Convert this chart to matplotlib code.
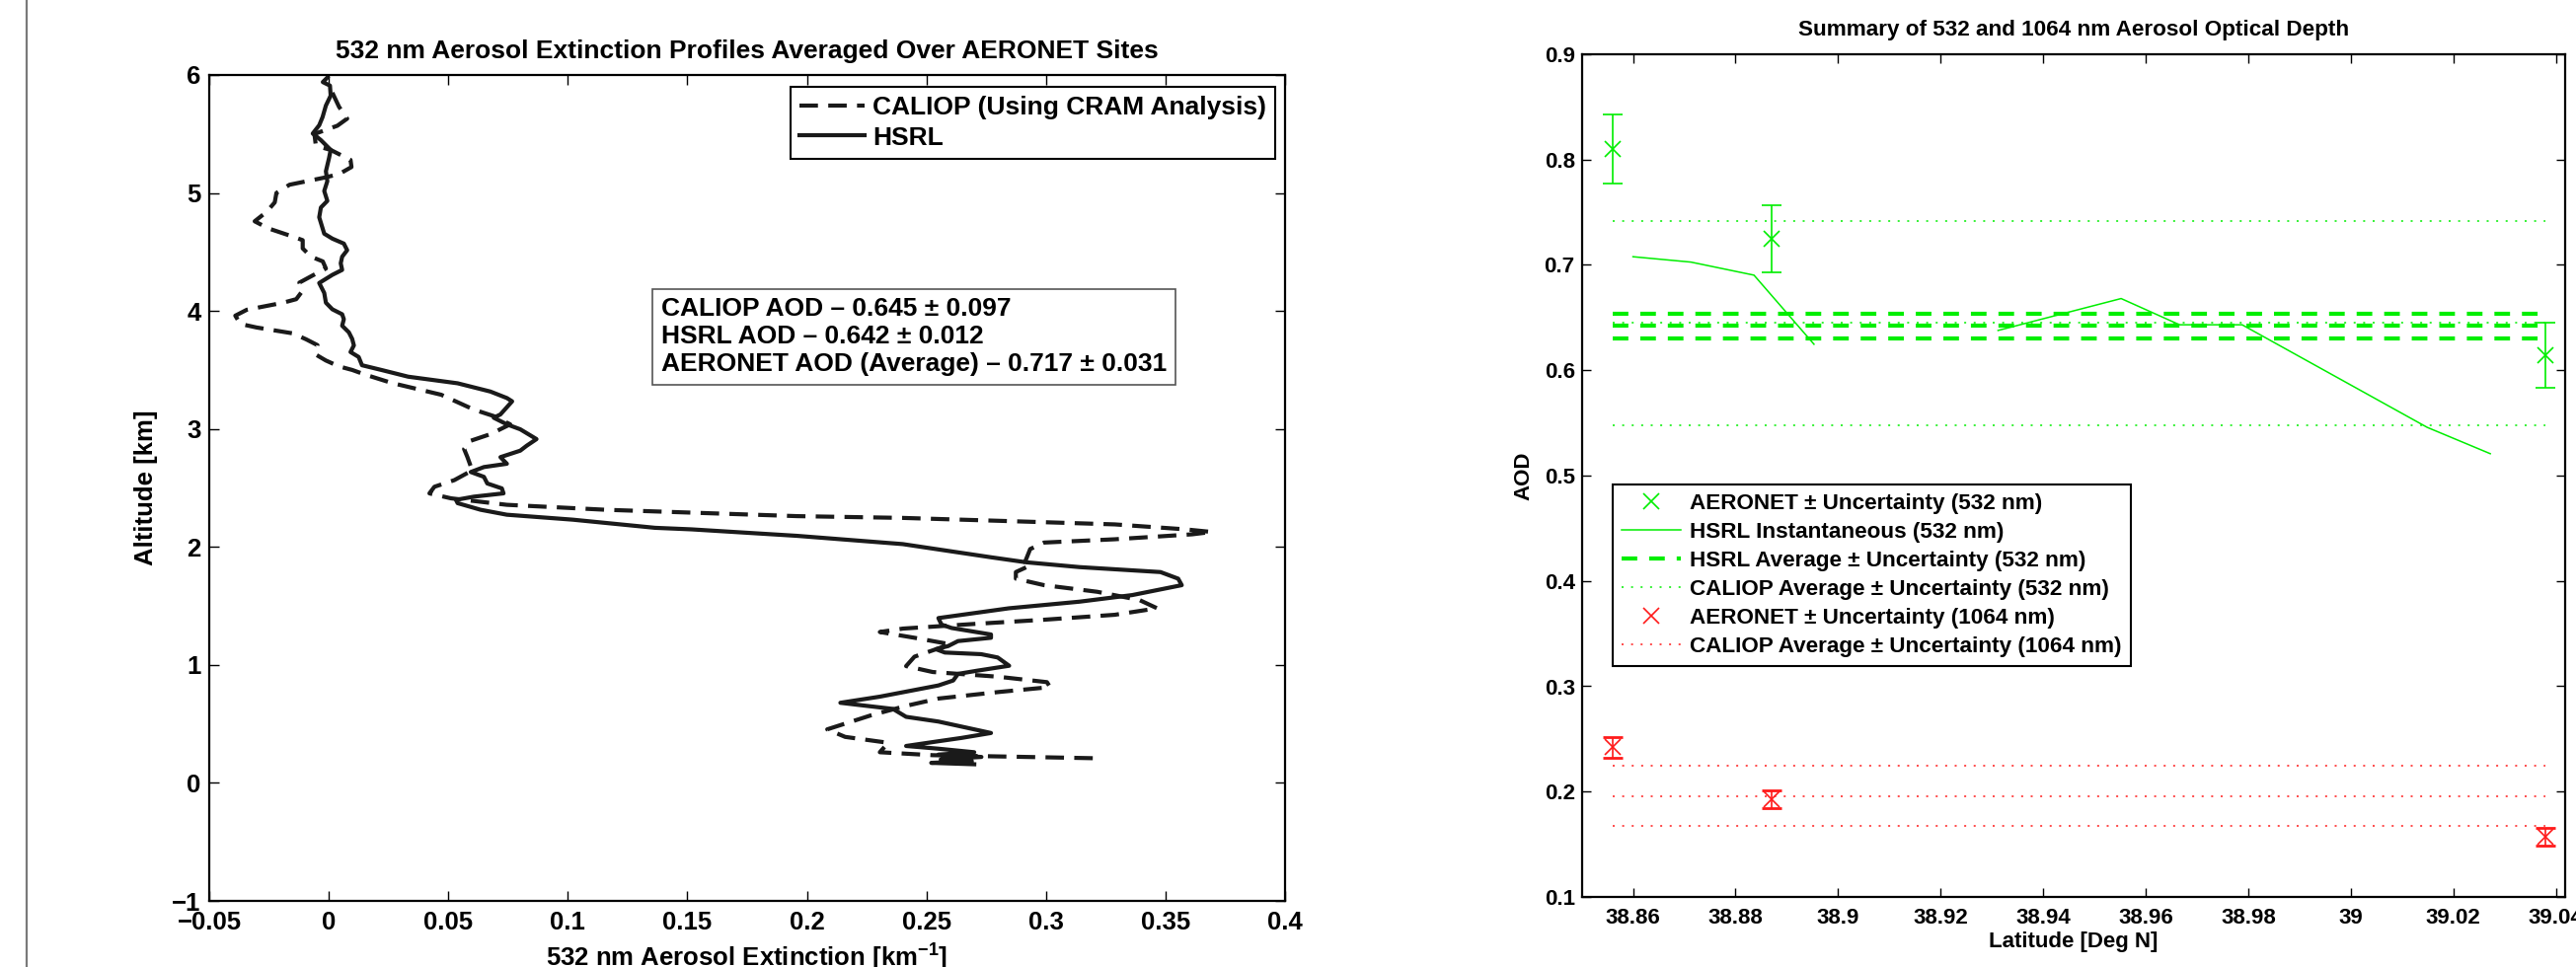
import numpy as np
import matplotlib.pyplot as plt
from matplotlib.lines import Line2D

plt.rcParams['font.family'] = ['Liberation Sans', 'DejaVu Sans']
plt.rcParams['font.weight'] = 'bold'
plt.rcParams['axes.labelweight'] = 'bold'
plt.rcParams['axes.titleweight'] = 'bold'
plt.rcParams['mathtext.fontset'] = 'custom'
plt.rcParams['mathtext.rm'] = 'Liberation Sans:bold'
plt.rcParams['mathtext.it'] = 'Liberation Sans:bold'
plt.rcParams['mathtext.bf'] = 'Liberation Sans:bold'

# ---- left panel: extinction profiles (km^-1 vs km) ----
hsrl_ext = [-0.0006, -0.0025, 0.0005, 0.0008, -0.0012, -0.0026, -0.0040, -0.0067, -0.0033, 0.0008,
            0.0001, -0.0012, -0.0006, -0.0019, -0.0006, -0.0033, -0.0040, -0.0019, 0.0015, 0.0063,
            0.0077, 0.0056, 0.0050, 0.0056, 0.0015, -0.0040, -0.0019, -0.0012, 0.0015, 0.0056,
            0.0063, 0.0056, 0.0084, 0.0098, 0.0105, 0.0091, 0.0125, 0.0139, 0.0222, 0.0332,
            0.0539, 0.0676, 0.0745, 0.0767, 0.0718, 0.0690, 0.0745, 0.0801, 0.0869, 0.0828,
            0.0801, 0.0718, 0.0745, 0.0649, 0.0594, 0.0649, 0.0663, 0.0724, 0.0731, 0.0607,
            0.0532, 0.0539, 0.0635, 0.0745, 0.1021, 0.1365, 0.1517, 0.1959, 0.2401, 0.2771,
            0.2917, 0.3140, 0.3479, 0.3553, 0.3568, 0.3361, 0.3140, 0.2845, 0.2550, 0.2563,
            0.2605, 0.2770, 0.2770, 0.2632, 0.2591, 0.2540, 0.2577, 0.2729, 0.2798, 0.2846,
            0.2715, 0.2632, 0.2612, 0.2550, 0.2305, 0.2140, 0.2360, 0.2415, 0.2550, 0.2770,
            0.2646, 0.2550, 0.2415, 0.2550, 0.2700, 0.2550, 0.2730, 0.2560, 0.2690, 0.2520,
            0.2700]
hsrl_alt = [5.978, 5.94, 5.91, 5.825, 5.741, 5.643, 5.574, 5.504, 5.448, 5.365,
            5.295, 5.184, 5.100, 5.017, 4.933, 4.877, 4.794, 4.655, 4.613, 4.571,
            4.515, 4.460, 4.404, 4.348, 4.306, 4.237, 4.153, 4.070, 4.014, 3.972,
            3.930, 3.875, 3.819, 3.763, 3.708, 3.652, 3.610, 3.540, 3.499, 3.443,
            3.387, 3.317, 3.262, 3.234, 3.123, 3.095, 3.039, 2.997, 2.914, 2.858,
            2.816, 2.761, 2.705, 2.677, 2.635, 2.594, 2.538, 2.496, 2.454, 2.426,
            2.399, 2.371, 2.315, 2.273, 2.231, 2.162, 2.149, 2.094, 2.024, 1.912,
            1.870, 1.829, 1.787, 1.731, 1.676, 1.592, 1.536, 1.480, 1.397, 1.342,
            1.313, 1.258, 1.230, 1.202, 1.160, 1.133, 1.105, 1.091, 1.063, 0.993,
            0.952, 0.924, 0.868, 0.826, 0.731, 0.679, 0.627, 0.560, 0.520, 0.423,
            0.381, 0.353, 0.313, 0.290, 0.260, 0.240, 0.220, 0.200, 0.185, 0.170,
            0.158]

caliop_ext = [0.0015, 0.0043, 0.0077, 0.0036, -0.0060, -0.0054, 0.0008, 0.0091, 0.0095, 0.0043,
              -0.0019, -0.0164, -0.0219, -0.0226, -0.0260, -0.0310, -0.0253, -0.0150, -0.0109, -0.0109,
              -0.0074, -0.0025, -0.0012, -0.0050, -0.0123, -0.0110, -0.0136, -0.0191, -0.0343, -0.0391,
              -0.0370, -0.0302, -0.0150, -0.0095, -0.0047, -0.0054, -0.0012, 0.0043, 0.0098, 0.0153,
              0.0263, 0.0346, 0.0470, 0.0607, 0.0690, 0.0759, 0.0676, 0.0594, 0.0566, 0.0580,
              0.0600, 0.0525, 0.0442, 0.0421, 0.0511, 0.0745, 0.1158, 0.1572, 0.1959, 0.2401,
              0.2843, 0.3288, 0.3583, 0.3693, 0.3612, 0.3288, 0.2992, 0.2934, 0.2912, 0.2934,
              0.2874, 0.2874, 0.2992, 0.3214, 0.3391, 0.3465, 0.3288, 0.2992, 0.2697, 0.2402,
              0.2305, 0.2450, 0.2600, 0.2450, 0.2415, 0.2526, 0.2800, 0.3004, 0.3017, 0.2800,
              0.2550, 0.2415, 0.2270, 0.2085, 0.2160, 0.2340, 0.2305, 0.2526, 0.3206]
caliop_alt = [5.85, 5.73, 5.63, 5.57, 5.50, 5.40, 5.365, 5.28, 5.22, 5.16,
              5.13, 5.07, 5.00, 4.92, 4.84, 4.76, 4.70, 4.63, 4.60, 4.53,
              4.46, 4.42, 4.36, 4.32, 4.24, 4.17, 4.10, 4.07, 4.01, 3.96,
              3.89, 3.86, 3.81, 3.76, 3.71, 3.63, 3.58, 3.53, 3.50, 3.46,
              3.39, 3.35, 3.29, 3.164, 3.109, 3.039, 2.956, 2.900, 2.830, 2.761,
              2.649, 2.566, 2.510, 2.454, 2.412, 2.357, 2.315, 2.287, 2.261, 2.246,
              2.219, 2.191, 2.149, 2.127, 2.107, 2.065, 2.037, 1.982, 1.871, 1.843,
              1.787, 1.731, 1.676, 1.620, 1.550, 1.480, 1.425, 1.383, 1.347, 1.308,
              1.279, 1.23, 1.175, 1.07, 0.99, 0.94, 0.90, 0.854, 0.812, 0.77,
              0.715, 0.653, 0.574, 0.454, 0.39, 0.34, 0.26, 0.235, 0.209]

aod_text = ['CALIOP AOD \u2013 0.645 \u00b1 0.097',
            'HSRL AOD \u2013 0.642 \u00b1 0.012',
            'AERONET AOD (Average) \u2013 0.717 \u00b1 0.031']

# ---- right panel: AOD vs latitude ----
aeronet_lat = [38.856, 38.887, 39.038]
aeronet_532 = [0.810, 0.725, 0.614]
aeronet_532_err = [0.033, 0.032, 0.031]
aeronet_1064 = [0.242, 0.193, 0.157]
aeronet_1064_err = [0.0095, 0.0085, 0.0083]

hsrl_lat = [38.860, 38.8713, 38.8836, 38.8953, np.nan, 38.9312, 38.9552, 38.9666, 38.9788, 39.0149, 39.0272]
hsrl_aod = [0.7078, 0.7027, 0.6903, 0.6247, np.nan, 0.6378, 0.6681, 0.6432, 0.6432, 0.5458, 0.5208]

hsrl_avg, hsrl_unc = 0.642, 0.012
caliop532_avg, caliop532_unc = 0.645, 0.097
caliop1064_avg, caliop1064_unc = 0.196, 0.029

green = '#00ee00'
red = '#ff1a1a'

fig = plt.figure(figsize=(26.1, 9.8), dpi=100)
fig.add_artist(Line2D([27 / 2610, 27 / 2610], [0, 1], color='#7a7a7a', lw=1.6))

# left
ax1 = fig.add_axes([212 / 2610, 1 - 913 / 980, 1090 / 2610, 837 / 980])
ax1.plot(caliop_ext, caliop_alt, color='#1a1a1a', lw=3, dashes=(4.5, 2.5),
         label='CALIOP (Using CRAM Analysis)')
ax1.plot(hsrl_ext, hsrl_alt, color='#1a1a1a', lw=3, label='HSRL')
ax1.set_xlim(-0.05, 0.4)
ax1.set_ylim(-1, 6)
ax1.set_xticks(np.arange(-0.05, 0.401, 0.05))
ax1.set_xticklabels(['\u22120.05', '0', '0.05', '0.1', '0.15', '0.2', '0.25', '0.3', '0.35', '0.4'])
ax1.set_yticks(range(-1, 7))
ax1.tick_params(direction='in', length=7, width=1, labelsize=18.5, top=True, right=True)
ax1.tick_params(axis='x', pad=7)
ax1.tick_params(axis='y', pad=6)
for s in ax1.spines.values():
    s.set_linewidth(1.6)
ax1.set_title('532 nm Aerosol Extinction Profiles Averaged Over AERONET Sites', fontsize=19, pad=12)
ax1.set_ylabel('Altitude [km]', fontsize=18.5, labelpad=10)
ax1.set_xlabel('532 nm Aerosol Extinction [km$^{-1}$]', fontsize=18.5, labelpad=6)
leg1 = ax1.legend(loc='upper right', bbox_to_anchor=(0.991, 0.986), borderaxespad=0,
                  fontsize=19, handlelength=2.5, fancybox=False, framealpha=1,
                  edgecolor='black', borderpad=0.35, labelspacing=0.25, handletextpad=0.3)
leg1.get_frame().set_linewidth(1.5)
ax1.text(0.4198, 0.7306, '\n'.join(aod_text), transform=ax1.transAxes, fontsize=19,
         ha='left', va='top', linespacing=1.2,
         bbox=dict(boxstyle='square,pad=0.33', fc='white', ec='#555555', lw=1.2))

# right
ax2 = fig.add_axes([1602.6 / 2610, 1 - 909 / 980, 996.4 / 2610, 854 / 980])
x0, x1 = min(aeronet_lat), max(aeronet_lat)
ax2.errorbar(aeronet_lat, aeronet_532, yerr=aeronet_532_err, fmt='none', ecolor=green,
             elinewidth=1.2, capsize=7, capthick=1.2)
h_a532, = ax2.plot(aeronet_lat, aeronet_532, 'x', color=green, ms=11, mew=1.2, ls='none')
h_inst, = ax2.plot(hsrl_lat, hsrl_aod, color=green, lw=1.1)
for v in (hsrl_avg + hsrl_unc, hsrl_avg, hsrl_avg - hsrl_unc):
    h_havg, = ax2.plot([x0, x1], [v, v], color=green, lw=3, dashes=(3.8, 2.9))
for v in (caliop532_avg + caliop532_unc, caliop532_avg, caliop532_avg - caliop532_unc):
    h_c532, = ax2.plot([x0, x1], [v, v], color=green, lw=1.1, dashes=(1.3, 5))
ax2.errorbar(aeronet_lat, aeronet_1064, yerr=aeronet_1064_err, fmt='none', ecolor=red,
             elinewidth=1.2, capsize=7, capthick=2)
h_a1064, = ax2.plot(aeronet_lat, aeronet_1064, 'x', color=red, ms=11, mew=1.2, ls='none')
for v in (caliop1064_avg + caliop1064_unc, caliop1064_avg, caliop1064_avg - caliop1064_unc):
    h_c1064, = ax2.plot([x0, x1], [v, v], color=red, lw=1.1, dashes=(1.3, 5))

ax2.set_xlim(38.85, 39.0418)
ax2.set_ylim(0.1, 0.9)
ax2.set_xticks(np.arange(38.86, 39.041, 0.02))
ax2.set_xticklabels(['38.86', '38.88', '38.9', '38.92', '38.94', '38.96', '38.98', '39', '39.02', '39.04'])
ax2.set_yticks(np.arange(0.1, 0.91, 0.1))
ax2.set_yticklabels(['0.1', '0.2', '0.3', '0.4', '0.5', '0.6', '0.7', '0.8', '0.9'])
ax2.tick_params(direction='in', length=6.5, width=1, labelsize=16, top=True, right=True)
ax2.tick_params(axis='x', pad=8)
ax2.tick_params(axis='y', pad=5)
for s in ax2.spines.values():
    s.set_linewidth(1.6)
ax2.set_title('Summary of 532 and 1064 nm Aerosol Optical Depth', fontsize=16.2, pad=14)
ax2.set_ylabel('AOD', fontsize=16, labelpad=7)
ax2.set_xlabel('Latitude [Deg N]', fontsize=16, labelpad=2)
leg2 = ax2.legend([h_a532, h_inst, h_havg, h_c532, h_a1064, h_c1064],
                  ['AERONET \u00b1 Uncertainty (532 nm)', 'HSRL Instantaneous (532 nm)',
                   'HSRL Average \u00b1 Uncertainty (532 nm)', 'CALIOP Average \u00b1 Uncertainty (532 nm)',
                   'AERONET \u00b1 Uncertainty (1064 nm)', 'CALIOP Average \u00b1 Uncertainty (1064 nm)'],
                  loc='upper left', bbox_to_anchor=(0.032, 0.490), borderaxespad=0,
                  fontsize=16.2, handlelength=2.65, fancybox=False, framealpha=1,
                  edgecolor='black', borderpad=0.4, labelspacing=0.36, handletextpad=0.4)
leg2.get_frame().set_linewidth(1.5)

fig.savefig('out.png', dpi=100)
